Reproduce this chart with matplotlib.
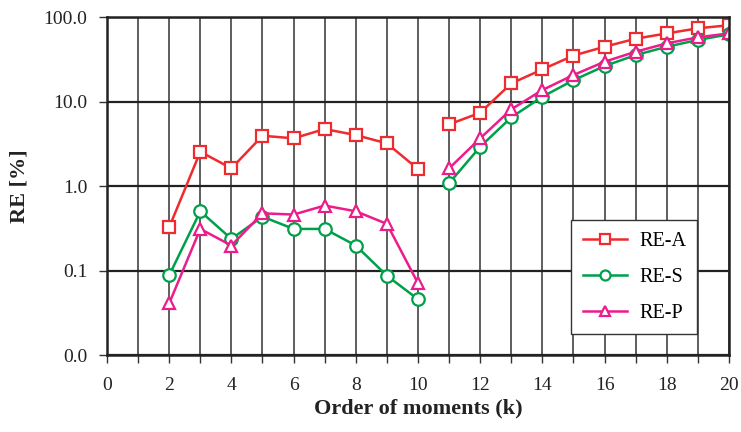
import numpy as np
import matplotlib
matplotlib.use("Agg")
import matplotlib.pyplot as plt
from matplotlib.ticker import FixedLocator, FuncFormatter

k_low = [2, 3, 4, 5, 6, 7, 8, 9, 10]
k_high = [11, 12, 13, 14, 15, 16, 17, 18, 19, 20]

re_a_low = [0.325, 2.55, 1.62, 3.94, 3.67, 4.73, 4.01, 3.2, 1.59]
re_a_high = [5.37, 7.37, 16.4, 24.0, 35.0, 44.5, 55.4, 64.0, 73.5, 80.0]
re_s_low = [0.088, 0.503, 0.237, 0.435, 0.311, 0.311, 0.198, 0.087, 0.0458]
re_s_high = [1.08, 2.92, 6.5, 11.4, 17.9, 26.3, 35.5, 44.5, 53.5, 62.4]
re_p_low = [0.041, 0.311, 0.198, 0.476, 0.46, 0.588, 0.503, 0.357, 0.0708]
re_p_high = [1.62, 3.67, 8.09, 13.7, 20.6, 29.6, 38.9, 48.8, 57.5, 64.0]

series = [
    ("RE-A", re_a_low, re_a_high, "#EE2B2E", "s"),
    ("RE-S", re_s_low, re_s_high, "#00A04B", "o"),
    ("RE-P", re_p_low, re_p_high, "#EC1C8C", "^"),
]

plt.rcParams['font.family'] = ['Liberation Serif', 'DejaVu Serif']

fig = plt.figure(figsize=(7.41, 4.32), dpi=100)
ax = fig.add_axes([0.1444, 0.178, 0.8394, 0.7826])

for name, lo, hi, col, mk in series:
    kw = dict(color=col, marker=mk, markersize=9, markerfacecolor='white',
              markeredgecolor=col, markeredgewidth=1.6, linewidth=1.8)
    ax.plot(k_low, lo, label=name, **kw)
    ax.plot(k_high, hi, **kw)

ax.set_yscale('log')
ax.set_ylim(0.01, 100)
ax.set_xlim(0, 20)
ax.yaxis.set_major_locator(FixedLocator([0.01, 0.1, 1, 10, 100]))
ax.yaxis.set_minor_locator(FixedLocator([]))
ax.yaxis.set_major_formatter(FuncFormatter(lambda v, p: f"{v:.1f}"))
ax.xaxis.set_major_locator(FixedLocator(range(0, 21, 2)))
ax.xaxis.set_minor_locator(FixedLocator(range(0, 21)))

ax.grid(True, which='major', axis='y', color='#222222', linewidth=1.6)
ax.grid(True, which='both', axis='x', color='#333333', linewidth=1.1)
ax.set_axisbelow(True)

for s in ax.spines.values():
    s.set_linewidth(1.8)
    s.set_color('#222222')

ax.tick_params(axis='both', which='both', direction='out', length=6, width=1.0, color='#333333',
               labelsize=14, labelcolor='#222222')
ax.tick_params(axis='x', which='both', pad=10)
ax.tick_params(axis='y', which='both', pad=8)

ax.set_xlabel("Order of moments (k)", fontsize=16, fontweight='bold', color='#222222', labelpad=3)
ax.set_ylabel("RE [%]", fontsize=16, fontweight='bold', color='#222222', labelpad=10)

leg = ax.legend(loc='lower right', bbox_to_anchor=(0.9486, 0.062), fontsize=14.5, frameon=True,
                fancybox=False, edgecolor='#333333', framealpha=1.0, borderpad=0.55,
                labelspacing=0.85, handlelength=2.2, handletextpad=0.6, markerscale=0.8,
                borderaxespad=0)
leg.get_frame().set_linewidth(1.0)
leg.set_zorder(5)

fig.savefig("out.png", dpi=100)
